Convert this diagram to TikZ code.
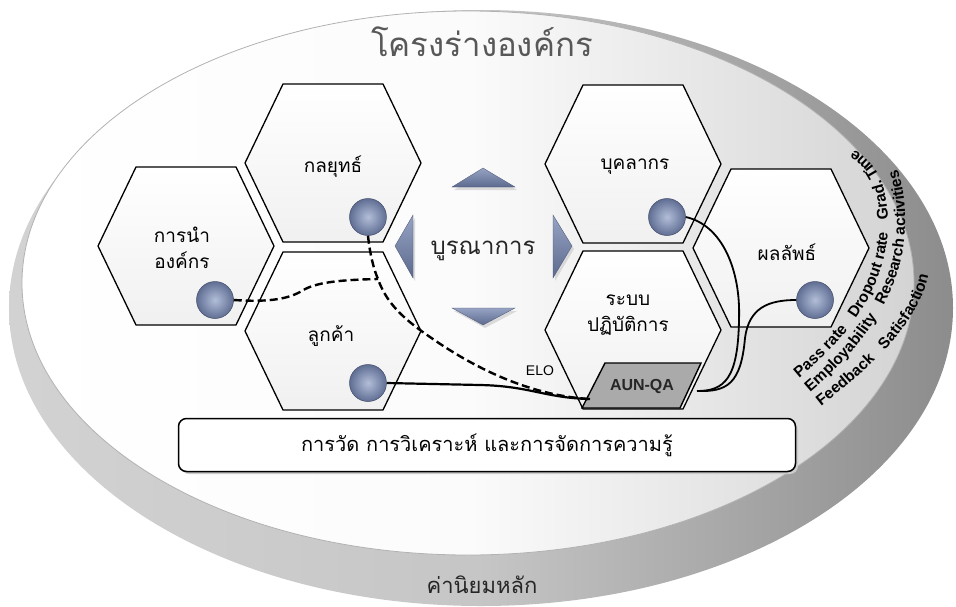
\documentclass[tikz,border=0pt]{standalone}
\usepackage{fontspec}
\setmainfont{Liberation Sans}
\newfontfamily\thaifont[Script=Thai]{Loma}
\usetikzlibrary{decorations.text,calc}
\definecolor{dotblue}{RGB}{96,110,148}
\definecolor{dotlight}{RGB}{178,190,216}
\definecolor{trilight}{RGB}{150,163,196}
\definecolor{tridark}{RGB}{92,106,142}
\definecolor{hexfill}{RGB}{250,250,250}
\definecolor{titlegray}{RGB}{88,88,88}
\definecolor{aungray}{RGB}{170,170,170}
\begin{document}
\begin{tikzpicture}[x=1pt,y=-1pt,
  hexline/.style={draw=black,line width=1.3pt,top color=white,bottom color=hexfill!92!gray},
  hexa/.pic={\path[hexline] (-88,0) -- (-50,-79) -- (50,-79) -- (88,0) -- (50,79) -- (-50,79) -- cycle;},
  hexlabel/.style={font=\thaifont\fontsize{19}{26}\selectfont,align=center,text=black},
  dot/.style={circle,minimum size=37pt,inner sep=0pt,draw=dotblue!70!black,line width=0.5pt,inner color=dotlight,outer color=dotblue},
  tri/.style={top color=trilight,bottom color=tridark,draw=tridark!80!black,line width=0.3pt},
  trishadow/.style={fill=gray!45,draw=none,opacity=0.6},
  dashline/.style={draw=black,line width=2.4pt,dash pattern=on 8pt off 4pt},
  solidline/.style={draw=black,line width=2.2pt},
  thinline/.style={draw=black,line width=1.8pt},
  arctext/.style={decorate,decoration={text along path,text format delimiters={|}{|},text align=left}}
]
\useasboundingbox (0,0) rectangle (956,606);
% platter rim
\shade[left color=gray!35,right color=gray!90,middle color=gray!45] (481,308) ellipse [x radius=472,y radius=298];
% top face
\shade[left color=white,right color=gray!34,middle color=white!97!gray,draw=gray!60,line width=0.8pt] (468,283) ellipse [x radius=446,y radius=272];
% title
\node (title) [font=\thaifont\fontsize{33}{38}\selectfont,text=titlegray] at (482,42) {โครงร่างองค์กร};
% hexagons
\pic at (186,246) {hexa};
\pic at (333,163) {hexa};
\pic at (333,331) {hexa};
\pic at (633,164) {hexa};
\pic at (633,330) {hexa};
\pic at (781,248) {hexa};
\node (lead) [hexlabel] at (182,248) {การนำ\\องค์กร};
\node (strat) [hexlabel] at (333,167) {กลยุทธ์};
\node (cust) [hexlabel] at (331,336) {ลูกค้า};
\node (staff) [hexlabel] at (635,167) {บุคลากร};
\node (ops) [hexlabel] at (628,315) {ระบบ\\ปฏิบัติการ};
\node (res) [hexlabel] at (787,252) {ผลลัพธ์};
% integration arrows
\path[trishadow] (454,190) -- (485,171) -- (517,190) -- cycle;
\path[tri] (452,187) -- (483,168) -- (515,187) -- cycle;
\path[trishadow] (397,248) -- (415,218) -- (415,281) -- cycle;
\path[tri] (395,246) -- (413,215) -- (413,278) -- cycle;
\path[trishadow] (555,218) -- (574,249) -- (555,281) -- cycle;
\path[tri] (553,215) -- (572,246) -- (553,278) -- cycle;
\path[trishadow] (454,311) -- (517,311) -- (485,328) -- cycle;
\path[tri] (452,308) -- (515,308) -- (483,325) -- cycle;
\node (integ) [font=\thaifont\fontsize{24}{28}\selectfont,text=black!85] at (483,251) {บูรณาการ};
% measurement box
\fill[gray!40,rounded corners=8pt] (181,422) rectangle (798,474);
\node (meas) [draw=black,line width=1.5pt,fill=white,rounded corners=8pt,minimum width=617pt,minimum height=53pt,
  font=\thaifont\fontsize{20}{24}\selectfont] at (487,445) {การวัด การวิเคราะห์ และการจัดการความรู้};
% AUN-QA
\path[fill=aungray,draw=black,line width=1.4pt] (582,408) -- (605,363) -- (701,363) -- (680,408) -- cycle;
\node (aun) [font=\bfseries\fontsize{16}{18}\selectfont,text=black!85] at (642,386) {AUN-QA};
\coordinate (aunL) at (590,399);
\coordinate (aunR) at (697,391);
% dots
\node (d1) [dot] at (215,300) {};
\node (d2) [dot] at (368,217) {};
\node (d3) [dot] at (368,383) {};
\node (d4) [dot] at (667,217) {};
\node (d5) [dot] at (815,300) {};
\coordinate (j) at (378,279);
% connectors
\draw[dashline] (d1.east) .. controls (265,302) and (285,300) .. (300,292) .. controls (312,284) and (330,280) .. (j);
\draw[dashline] (d2.south) .. controls (370,255) and (374,270) .. (j) .. controls (386,302) and (402,318) .. (430,337) .. controls (480,372) and (535,396) .. (aunL);
\draw[solidline] (d3.east) -- (480,385) .. controls (530,386) and (545,398) .. (aunL);
\draw[thinline] (d4.east) .. controls (722,225) and (741,270) .. (739,320) .. controls (738,378) and (725,391) .. (aunR);
\draw[thinline] (d5.west) .. controls (768,300) and (749,308) .. (745,338) .. controls (741,384) and (727,392) .. (aunR);
\node (elo) [font=\fontsize{14}{16}\selectfont] at (540,371) {ELO};
% arc texts
\path[arctext,decoration={text={|\bfseries\fontsize{15.5}{17}\selectfont|Pass rate{\hspace*{9pt}} Dropout rate{\hspace*{9pt}} Grad. Time}}]
  (799,378) .. controls (848,338) and (886,288) .. (888,228) .. controls (889,175) and (868,146) .. (826,143);
\path[arctext,decoration={text={|\bfseries\fontsize{15.5}{17}\selectfont|Employability{\hspace*{9pt}} Research activities}}]
  (810,392) .. controls (860,350) and (903,295) .. (905,228) .. controls (906,195) and (901,176) .. (893,160);
\path[arctext,decoration={text={|\bfseries\fontsize{15.5}{17}\selectfont|Feedback{\hspace*{9pt}} Satisfaction}}]
  (821,406) .. controls (875,364) and (920,322) .. (929,272);
% bottom label
\node (values) [font=\thaifont\fontsize{22}{26}\selectfont,text=black!85] at (482,585) {ค่านิยมหลัก};
\end{tikzpicture}
\end{document}
